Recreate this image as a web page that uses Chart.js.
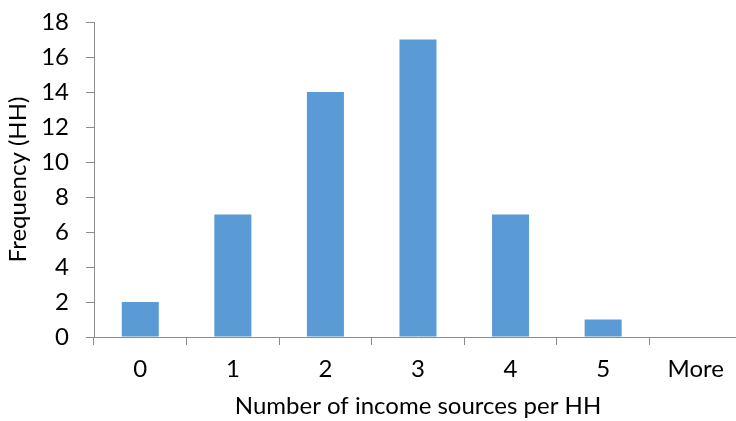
<!DOCTYPE html>
<html>
<head>
<meta charset="utf-8">
<script src="https://cdn.jsdelivr.net/npm/chart.js@4/dist/chart.umd.min.js"></script>
<style>
  html, body { margin: 0; padding: 0; background: #fff; overflow: hidden; }
  #wrap { width: 742px; height: 421px; }
</style>
</head>
<body>
<div id="wrap"><canvas id="c" width="742" height="421"></canvas></div>
<script>
// Histogram: households by number of income sources
const categories = ['0', '1', '2', '3', '4', '5', 'More'];
const frequency = [2, 7, 14, 17, 7, 1, 0];
const yTicks = [0, 2, 4, 6, 8, 10, 12, 14, 16, 18];

const axisColor = '#8c8c8c';
const fontFamily = 'Lato, "Open Sans", sans-serif';
const fontSize = 24;

new Chart(document.getElementById('c'), {
  type: 'bar',
  data: {
    labels: categories,
    datasets: [{
      data: frequency,
      backgroundColor: '#5b9bd5',
      borderWidth: 0,
      barPercentage: 1,
      categoryPercentage: 0.4
    }]
  },
  options: {
    responsive: false,
    animation: false,
    layout: { padding: { top: 22, right: 0, bottom: 0, left: 0 } },
    plugins: { legend: { display: false }, tooltip: { enabled: false } },
    scales: {
      x: {
        offset: true,
        grid: { display: true, drawOnChartArea: false, drawTicks: true, tickLength: 8, color: axisColor, offset: true },
        border: { display: true, color: axisColor, width: 1 },
        ticks: { color: '#000', font: { family: fontFamily, size: fontSize }, padding: 10, maxRotation: 0 },
        title: { display: true, text: 'Number of income sources per HH', color: '#000', font: { family: fontFamily, size: fontSize }, padding: { top: 4, bottom: 0 } },
        afterFit: (s) => { s.height = 84; s.paddingLeft = 0; s.paddingRight = 0; }
      },
      y: {
        min: 0, max: 18,
        afterBuildTicks: (s) => { s.ticks = yTicks.map(v => ({ value: v })); },
        grid: { display: true, drawOnChartArea: false, drawTicks: true, tickLength: 8, color: axisColor },
        border: { display: true, color: axisColor, width: 1 },
        ticks: { color: '#000', font: { family: fontFamily, size: fontSize }, padding: 17 },
        title: { display: true, text: 'Frequency (HH)', color: '#000', font: { family: fontFamily, size: fontSize }, padding: { top: 4, bottom: 0 } },
        afterFit: (s) => { s.width = 94; s.paddingTop = 0; s.paddingBottom = 0; }
      }
    }
  }
});
</script>
</body>
</html>
